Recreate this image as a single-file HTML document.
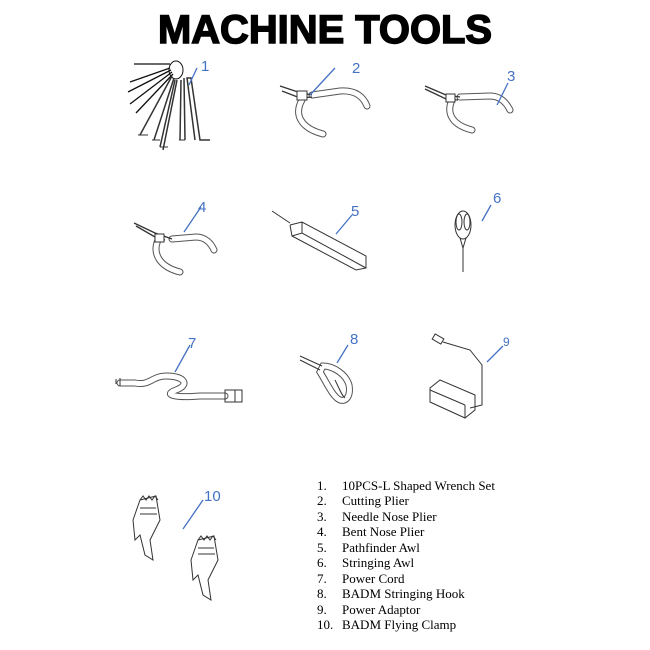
<!DOCTYPE html>
<html><head><meta charset="utf-8"><style>
html,body{margin:0;padding:0;background:#fff;}
svg{display:block}
</style></head><body>
<svg width="650" height="650" viewBox="0 0 650 650" xmlns="http://www.w3.org/2000/svg">
<rect width="650" height="650" fill="#fff"/>
<text x="325" y="43" text-anchor="middle" font-family="Liberation Sans, sans-serif" font-weight="bold" font-size="40" textLength="334" lengthAdjust="spacingAndGlyphs" fill="#000" stroke="#000" stroke-width="1.5">MACHINE TOOLS</text>

<!-- tube handles: outline + white fill -->
<g fill="none" stroke-linecap="round">
<g stroke="#555" stroke-width="7">
<path id="h2a" d="M312 95L340 91C355 90 363 96 367 106"/>
<path d="M302 100C294 114 300 128 323 134"/>
<path d="M460 97L490 96C500 96 506 102 510 110"/>
<path d="M452 100C446 113 452 125 472 130"/>
<path d="M172 239L196 237C205 237 211 243 214 250"/>
<path d="M158 240C152 254 160 267 180 272"/>
<path d="M323 366C333 366 346 374 349 385C351 396 346 402 340 400C333 397 328 385 320 372Z"/>
<path d="M120 383H135C150 386 152 376 166 376C185 376 190 385 176 390C162 395 176 398 200 396L225 396"/>
</g>
<g stroke="#fff" stroke-width="5">
<path d="M312 95L340 91C355 90 363 96 367 106"/>
<path d="M302 100C294 114 300 128 323 134"/>
<path d="M460 97L490 96C500 96 506 102 510 110"/>
<path d="M452 100C446 113 452 125 472 130"/>
<path d="M172 239L196 237C205 237 211 243 214 250"/>
<path d="M158 240C152 254 160 267 180 272"/>
<path d="M323 366C333 366 346 374 349 385C351 396 346 402 340 400C333 397 328 385 320 372Z"/>
<path d="M120 383H135C150 386 152 376 166 376C185 376 190 385 176 390C162 395 176 398 200 396L225 396"/>
</g>
</g>

<g fill="none" stroke="#333" stroke-width="1">
<!-- 1 wrench set -->
<ellipse cx="176" cy="70" rx="7" ry="9" fill="#fff" stroke="#111"/>
<path d="M134 64H170M130 82L170 68M128 92L171 70M130 104L172 72M136 113L173 74" stroke="#111" stroke-width="1.3"/>
<path d="M140 135L172 76M154 140L174 78M160 147L175 80M163 150L177 80M180 140L181 80M185 140L184 78M195 140L187 78L191 78L200 140H210" stroke="#333" stroke-width="1.5"/>
<path d="M138 135H148M152 140H160M160 147H168M179 140H185" />
<!-- plier heads -->
<path d="M280 86L298 92L312 95M282 91L300 98L312 97" stroke-width="1.3"/>
<rect x="297" y="91" width="10" height="9" fill="#fff"/>
<path d="M425 86L446 95L460 97M425 89L446 99L458 100" stroke-width="1.3"/>
<rect x="446" y="94" width="9" height="8" fill="#fff"/>
<path d="M134 223L155 233L172 239M136 226L155 237L165 240" stroke-width="1.3"/>
<rect x="155" y="234" width="9" height="8" fill="#fff"/>
<!-- 5 pathfinder awl -->
<path d="M272 211L290 223M290 225L292 236L356 270L366 268L366 256L302 222L290 225M292 236L302 233L366 268M302 222V233" />
<!-- 6 stringing awl -->
<ellipse cx="463" cy="225" rx="8" ry="14"/><ellipse cx="459" cy="222" rx="3" ry="8"/><ellipse cx="467" cy="222" rx="3" ry="8"/>
<path d="M460 238L463 248L466 238M463 248V272"/>
<!-- 7 plugs -->
<path d="M225 390h10v12h-10zM235 390h7v12h-7zM116 379v5M120 378v8"/>
<!-- 8 hook tip -->
<path d="M300 356L322 366M300 360L320 370M335 380C340 390 342 396 345 398"/>
<!-- 9 adaptor -->
<rect x="433" y="336" width="10" height="6" transform="rotate(30 438 339)" fill="#fff"/>
<path d="M443 342L470 350L482 365V405L470 408"/>
<path d="M440 380L475 395V410L465 418L430 402V388Z M440 380L430 388M465 405L430 390M465 405V418"/>
<!-- 10 clamps -->
<path d="M140 500L156 496L160 520L150 540L153 560L145 555L140 535L135 540L133 520Z"/>
<path d="M140 500l3 -4 3 4 3 -4 3 4 3 -4 3 4M140 508H156M140 514H157"/>
<path d="M198 540L214 536L218 560L208 580L211 600L203 595L198 575L193 580L191 560Z"/>
<path d="M198 540l3 -4 3 4 3 -4 3 4 3 -4 3 4M198 548H214M198 554H215"/>
</g>

<g stroke="#4472c4" stroke-width="1.3" fill="none">
<path d="M189 85L197 68M310 95L335 68M497 105L508 83M184 232L201 207M336 234L352 215M482 221L491 205M175 372L190 345M337 363L348 345M487 362L503 346M183 529L203 500"/>
</g>
<g fill="#4472c4" font-family="Liberation Sans, sans-serif" font-size="15">
<text x="201" y="71">1</text><text x="352" y="73">2</text><text x="507" y="81">3</text>
<text x="198" y="212">4</text><text x="351" y="216">5</text><text x="493" y="203">6</text>
<text x="188" y="348">7</text><text x="350" y="344">8</text><text x="503" y="346" font-size="12">9</text>
<text x="204" y="501">10</text>
</g>

<g font-family="Liberation Serif, serif" font-size="13" fill="#000">
<text x="317" y="490">1.</text><text x="342" y="490">10PCS-L Shaped Wrench Set</text>
<text x="317" y="505">2.</text><text x="342" y="505">Cutting Plier</text>
<text x="317" y="521">3.</text><text x="342" y="521">Needle Nose Plier</text>
<text x="317" y="536">4.</text><text x="342" y="536">Bent Nose Plier</text>
<text x="317" y="552">5.</text><text x="342" y="552">Pathfinder Awl</text>
<text x="317" y="567">6.</text><text x="342" y="567">Stringing Awl</text>
<text x="317" y="583">7.</text><text x="342" y="583">Power Cord</text>
<text x="317" y="598">8.</text><text x="342" y="598">BADM Stringing Hook</text>
<text x="317" y="614">9.</text><text x="342" y="614">Power Adaptor</text>
<text x="317" y="629">10.</text><text x="342" y="629">BADM Flying Clamp</text>
</g>
</svg>
</body></html>
